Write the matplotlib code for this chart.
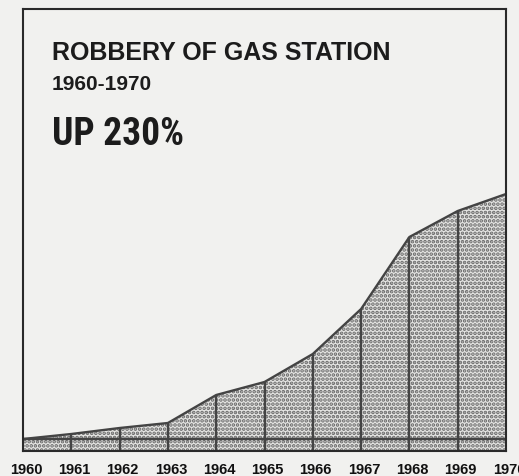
import matplotlib
matplotlib.use("Agg")
import matplotlib.pyplot as plt
import matplotlib.transforms as mtransforms

# Data (arbitrary index units above the baseline)
years = [1960, 1961, 1962, 1963, 1964, 1965, 1966, 1967, 1968, 1969, 1970]
robberies = [0, 5, 11, 16, 44, 57, 85, 130, 202, 228, 245]
year_labels = [str(y) for y in years]
title = "ROBBERY OF GAS STATION"
subtitle = "1960-1970"
headline = "UP 230%"

W, H = 519, 477
fig = plt.figure(figsize=(W / 100, H / 100), dpi=100)
bg = "#f1f1ef"
fig.patch.set_facecolor(bg)
plt.rcParams["hatch.linewidth"] = 1.8

left, right, top, bottom = 23, 506, 10, 452
ax = fig.add_axes([left / W, 1 - bottom / H, (right - left) / W, (bottom - top) / H])
ax.set_facecolor(bg)

ymin, ymax = -12, 430
ax.set_xlim(years[0], years[-1])
ax.set_ylim(ymin, ymax)

line_col = "#444444"
ax.fill_between(years, ymin, robberies, facecolor="#e4e4e2", edgecolor="#666666",
                hatch="....", linewidth=0, zorder=1)
ax.plot(years, robberies, color=line_col, lw=1.7, zorder=3, solid_joinstyle="round")
ax.vlines(years[1:-1], ymin, robberies[1:-1], color=line_col, lw=1.7, zorder=3)
ax.axhline(0, color=line_col, lw=1.7, zorder=3)

for s in ax.spines.values():
    s.set_color("#2a2a2a")
    s.set_linewidth(1.5)
    s.set_zorder(4)

ax.set_yticks([])
ax.set_xticks(years)
ax.set_xticklabels(year_labels, fontfamily="Liberation Sans", fontweight="bold",
                   fontsize=10.5, color="#111111")
ax.tick_params(axis="x", length=0, pad=8)
offset = mtransforms.ScaledTranslation(3 / 100, 0, fig.dpi_scale_trans)
for lab in ax.get_xticklabels():
    lab.set_transform(lab.get_transform() + offset)

fig.text(52 / W, 1 - 60 / H, title, fontfamily="Liberation Sans", fontweight="bold",
         fontsize=18, color="#1c1c1c", va="baseline", ha="left")
fig.text(52 / W, 1 - 90 / H, subtitle, fontfamily="Liberation Sans", fontweight="bold",
         fontsize=15, color="#1c1c1c", va="baseline", ha="left")
fig.text(52 / W, 1 - 145 / H, headline,
         fontfamily=["Roboto Condensed", "Liberation Sans Narrow", "Roboto"],
         fontweight="bold", fontsize=27, color="#1c1c1c", va="baseline", ha="left")

fig.savefig("out.png", dpi=100, facecolor=bg)
